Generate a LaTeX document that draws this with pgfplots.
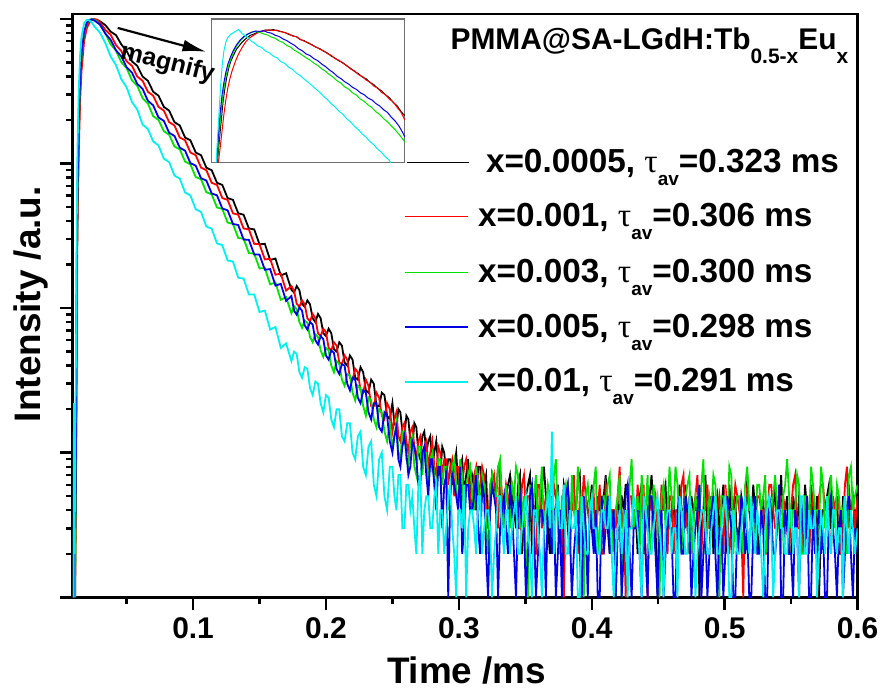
\documentclass[border=0pt]{standalone}
\usepackage{fontspec}
\setmainfont{Liberation Sans}
\newfontfamily\grk{Liberation Serif}
\usepackage{pgfplots}
\pgfplotsset{compat=1.18}
\usepackage{pgfplotstable}
\usetikzlibrary{arrows.meta}
\definecolor{cK}{RGB}{0,0,0}
\definecolor{cR}{RGB}{255,0,0}
\definecolor{cG}{RGB}{0,225,0}
\definecolor{cB}{RGB}{0,0,230}
\definecolor{cC}{RGB}{0,240,240}
\definecolor{frm}{RGB}{110,110,110}

\pgfplotstableread{
t k r g b c
0.0096 1 1 1 1 1
0.0099 2 1 3 2 14
0.0102 1 2 1 6 1
0.0105 3 1 2 1 22
0.0109 1 2 4 18 2
0.0113 2 1 1 3 12
0.0117 4 3 5 6 30
0.0121 20 12 25 30 80
0.0125 150 90 180 200 400
0.0130 500 350 600 650 1200
0.0140 1600 1200 1900 2000 3200
0.0150 3300 2700 3700 3800 5600
0.0160 5000 4300 5400 5600 7400
0.0180 7600 7000 7900 8100 9300
0.0200 9000 8600 9300 9400 9850
0.0220 9700 9400 9800 9850 9750
0.0240 9950 9800 9950 9900 9350
0.0260 9900 9950 9800 9700 8800
0.0280 9800 9850 9550 9400 8400
0.0300 9600 9450 9016 9141 8000
0.034 9050 8380 7950 7900 6800
0.038 8150 7750 6650 7150 5480
0.042 7720 6580 6030 6050 4790
0.046 6650 5990 5010 5500 3820
0.050 5990 5080 4560 4620 3360
0.054 5080 4730 3760 4250 2660
0.058 4730 3990 3440 3550 2360
0.062 3990 3730 2830 3280 1860
0.066 3730 3130 2600 2710 1730
0.070 3130 2940 2120 2520 1420
0.074 2940 2460 2000 2080 1330
0.078 2460 2320 1670 1970 1080
0.082 2320 1930 1580 1630 1020
0.086 1930 1830 1310 1550 825
0.090 1830 1510 1250 1285 785
0.094 1510 1445 1030 1225 630
0.098 1445 1190 985 1005 600
0.102 1190 1140 805 965 482
0.106 1140 935 778 790 462
0.110 935 898 632 762 366
0.114 898 735 612 620 354
0.118 735 710 496 602 280
0.122 710 576 484 488 272
0.126 576 560 390 474 213
0.130 560 452 382 382 210
0.134 452 442 305 375 162
0.138 442 355 302 298 160
0.142 355 350 240 296 124
0.146 350 278 238 235 124
0.150 276 276 188 234 94
0.154 278 217 189 184 96
0.158 215 219 146 186 71
0.162 220 170 150 143 74
0.166 168 173 114 147 53
0.170 174 132 119 112 57
0.174 134 142 92 121 43
0.176 128 131 103 96 50
0.178 142 107 98 90 48
0.180 133 102 80 101 36
0.182 107 113 73 96 33
0.184 102 106 82 76 39
0.186 113 85 79 71 38
0.188 106 81 63 80 28
0.190 85 91 58 77 25
0.192 80 85 66 60 31
0.194 91 67 63 56 30
0.196 85 64 51 64 22
0.198 67 72 46 61 19
0.200 64 68 53 47 25
0.202 72 53 51 44 24
0.204 67 51 40 51 17
0.206 52 58 36 49 15
0.208 50 55 43 38 20
0.210 58 42 41 35 20
0.212 55 41 32 41 13
0.214 42 47 29 40 12
0.216 40 44 35 30 16
0.218 47 33 34 27 16
0.220 44 32 26 33 10
0.222 33 38 23 32 9
0.224 32 36 29 24 13
0.226 39 27 28 22 14
0.228 36 26 21 27 8
0.230 27 32 18 26 7
0.232 26 29 24 19 11
0.234 32 21 23 17 12
0.236 30 21 17 22 6
0.238 21 26 15 22 5
0.240 21 24 20 15 9
0.242 26 18 19 14 10
0.244 25 17 14 19 5
0.246 18 22 12 18 4
0.248 17 20 16 12 8
0.2500 22 14 11 10 8
0.2515 16 17 13 13 5
0.2530 15 19 16 15 4
0.2545 20 13 10 9 7
0.2560 19 12 9 8 7
0.2575 14 15 14 11 3
0.2590 13 16 14 13 3
0.2605 18 12 9 10 6
0.2620 17 10 8 7 6
0.2635 12 14 12 8 4
0.2650 11 15 13 12 5
0.2665 16 11 8 11 3
0.2680 15 9 7 9 2
0.2695 10 12 11 6 6
0.2710 9 13 11 6 7
0.2725 13 9 7 10 2
0.2740 14 11 10 11 4
0.2755 10 12 10 7 5
0.2770 12 8 6 5 5
0.2785 13 10 9 9 3
0.2800 8 12 10 9 3
0.2815 10 8 7 6 5
0.2830 12 7 5 4 6
0.2845 8 11 9 8 2
0.2860 7 10 9 8 4
0.2875 11 7 6 3 4
0.2890 10 9 8 6 2
0.2905 7 9 8 7 3
0.2920 9 6 4 1 5
0.2935 9 8 5 5 6
0.2950 6 9 8 7 3
0.2965 8 5 9 6 2
0.2980 10 8 6 5 1
0.2995 6 8 4 4 4
0.3010 8 5 9 8 4
0.3025 9 6 7 2 3
0.3040 5 8 3 3 6
0.3055 7 9 6 6 1
0.3070 9 7 7 6 3
0.3085 5 5 8 4 4
0.3100 7 4 5 4 4
0.3115 6 7 4 5 3
0.3130 4 8 8 7 2
0.3145 8 5 6 3 5
0.3160 8 6 4 2 5
0.3175 5 8 7 6 2
0.3190 6 7 6 5 3
0.3205 7 4 3 2 4
0.3220 3 3 2 1 4
0.3235 4 6 6 4 3
0.3250 7 6 7 6 1
0.3265 6 7 5 5 2
0.3280 5 5 5 4 3
0.3295 8 3 8 1 5
0.3310 8 8 9 3 5
0.3325 3 5 4 4 3
0.3340 4 4 3 5 2
0.3355 5 6 6 3 4
0.3370 6 5 4 2 4
0.3385 7 4 3 6 2
0.3400 5 6 6 4 3
0.3415 4 5 5 2 4
0.3430 3 4 8 1 5
0.3445 6 3 7 4 2
0.3460 7 3 3 5 2
0.3475 2 6 4 3 3
0.3490 4 7 5 3 4
0.3505 5 4 2 1 5
0.3520 6 5 1 2 3
0.3535 7 5 6 5 2
0.3550 2 4 4 6 1
0.3565 3 2 5 3 4
0.3580 5 2 7 1 4
0.3595 4 6 3 2 3
0.3610 4 6 5 4 2
0.3625 6 3 8 4 1
0.3640 8 4 3 3 3
0.3655 5 5 4 1 4
0.3670 3 5 6 5 5
0.3685 2 4 5 3 3
0.3700 5 3 4 2 14
0.3715 4 6 7 4 2
0.3730 4 5 9 1 4
0.3745 6 4 3 2 5
0.3760 2 4 2 4 3
0.3775 3 3 5 1 3
0.3790 6 1 5 3 6
0.3805 5 5 6 5 2
0.3820 3 6 4 6 2
0.3835 2 4 2 3 4
0.3850 5 4 7 1 3
0.3865 4 7 4 2 3
0.3880 4 3 3 3 4
0.3895 6 2 8 4 1
0.3910 7 5 5 2 1
0.3925 3 4 3 1 5
0.3940 3 7 1 5 3
0.3955 5 5 5 3 2
0.3970 4 4 6 1 2
0.3985 4 3 4 4 4
0.4000 6 4 4 3 5
0.4015 3 5 6 2 3
0.4030 2 3 8 4 3
0.4045 5 4 2 1 2
0.4060 4 6 3 1 2
0.4075 4 2 5 5 4
0.4090 5 2 5 2 4
0.4105 7 6 4 3 3
0.4120 3 5 6 5 3
0.4135 2 3 7 2 5
0.4150 4 4 2 3 2
0.4165 4 4 3 4 1
0.4180 1 3 4 1 2
0.4195 3 5 5 3 3
0.4210 5 8 7 4 4
0.4225 5 3 1 1 2
0.4240 4 4 4 2 3
0.4255 6 1 4 5 4
0.4270 6 2 3 6 1
0.4285 3 5 6 2 3
0.4300 3 5 9 1 3
0.4315 4 3 3 3 5
0.4330 4 3 4 3 4
0.4345 2 6 5 4 3
0.4360 5 4 2 2 2
0.4375 6 4 7 1 1
0.4390 2 6 5 4 5
0.4405 3 2 4 2 4
0.4420 4 1 7 1 3
0.4435 5 5 2 5 2
0.4450 7 4 3 5 2
0.4465 4 4 6 3 3
0.4480 3 5 4 2 4
0.4495 1 3 4 1 5
0.4510 4 3 1 3 3
0.4525 4 6 5 4 2
0.4540 5 4 6 1 1
0.4555 6 4 3 2 3
0.4570 3 2 4 4 4
0.4585 3 5 8 3 4
0.4600 4 5 5 3 2
0.4615 5 2 4 1 3
0.4630 2 4 8 1 3
0.4645 3 4 6 4 1
0.4660 6 3 3 5 5
0.4675 4 6 2 2 4
0.4690 4 7 4 2 3
0.4705 6 3 5 5 2
0.4720 3 4 6 4 2
0.4735 2 5 7 3 5
0.4750 5 2 2 1 4
0.4765 4 4 3 2 3
0.4780 4 5 5 3 1
0.4795 5 7 4 4 2
0.4810 1 3 4 6 3
0.4825 3 2 6 1 4
0.4840 4 4 9 2 4
0.4855 7 4 2 3 3
0.4870 3 6 3 1 2
0.4885 4 3 5 2 2
0.4900 5 3 4 4 3
0.4915 2 5 7 5 4
0.4930 4 4 6 2 5
0.4945 5 4 3 1 2
0.4960 3 5 1 3 2
0.4975 4 3 5 3 3
0.4990 6 2 5 1 4
0.5005 3 6 4 2 5
0.5020 2 4 3 5 3
0.5035 6 2 8 4 1
0.5050 4 3 7 3 1
0.5065 4 4 2 1 4
0.5080 5 6 4 1 3
0.5095 2 5 5 3 2
0.5110 3 4 5 2 2
0.5125 5 3 3 5 3
0.5140 4 1 2 4 4
0.5155 3 6 6 2 5
0.5170 7 5 8 3 3
0.5185 4 4 4 1 2
0.5200 3 4 4 1 5
0.5215 6 3 2 3 3
0.5230 4 3 3 5 2
0.5245 3 5 6 2 4
0.5260 2 5 6 2 3
0.5275 4 4 4 4 2
0.5290 5 4 5 3 1
0.5305 2 2 7 1 3
0.5320 4 2 2 1 4
0.5335 5 6 3 5 5
0.5350 3 6 4 4 3
0.5365 4 4 5 2 1
0.5380 6 3 7 2 2
0.5395 3 3 4 3 4
0.5410 4 4 3 6 4
0.5425 7 5 2 1 3
0.5440 3 5 5 1 3
0.5455 4 4 6 4 2
0.5470 5 3 9 3 2
0.5485 2 2 5 2 4
0.5500 2 4 3 2 4
0.5515 5 6 4 1 2
0.5530 4 7 4 4 3
0.5545 3 3 7 3 3
0.5560 5 3 6 1 1
0.5575 4 5 2 5 5
0.5590 3 2 2 3 5
0.5605 6 4 5 2 2
0.5620 4 5 5 5 2
0.5635 2 2 3 1 4
0.5650 6 4 8 1 3
0.5665 4 5 6 4 3
0.5680 3 3 4 2 4
0.5695 5 3 4 3 1
0.5710 1 5 3 4 2
0.5725 3 6 8 2 4
0.5740 4 6 6 3 3
0.5755 4 4 3 1 2
0.5770 5 4 4 1 5
0.5785 6 3 5 4 3
0.5800 3 2 7 5 2
0.5815 3 5 4 3 4
0.5830 4 4 3 2 4
0.5845 5 4 6 1 2
0.5860 2 5 5 3 3
0.5875 2 2 3 4 3
0.5890 5 3 4 1 1
0.5905 4 6 5 2 5
0.5920 4 8 2 4 3
0.5935 6 3 7 5 2
0.5950 3 4 8 2 4
0.5965 3 5 4 1 3
0.5980 4 3 5 3 2
0.6000 4 5 6 2 3
}\decay

\newcommand\tav{{\grk\mdseries τ}\raisebox{-6.5pt}{\fontsize{9.5}{9.5}\selectfont av}}
\newcommand\legfont{\fontsize{16.7}{16.7}\selectfont\bfseries}

\begin{document}
\begin{tikzpicture}
\begin{axis}[
  at={(0,0)}, anchor=south west,
  width=393.5pt, height=292.5pt, scale only axis,
  xmin=0.0095, xmax=0.6, ymode=log, ymin=1, ymax=10800,
  xtick={0.1,0.2,0.3,0.4,0.5,0.6},
  xticklabels={0.1,0.2,0.3,0.4,0.5,0.6},
  minor xtick={0.05,0.15,0.25,0.35,0.45,0.55},
  ytick={1,10,100,1000,10000}, yticklabels={},
  minor ytick={2,3,4,5,6,7,8,9,20,30,40,50,60,70,80,90,200,300,400,500,600,700,800,900,2000,3000,4000,5000,6000,7000,8000,9000},
  xtick pos=left, ytick pos=left, tick align=outside,
  major tick length=6.5pt, minor tick length=3.5pt,
  every tick/.style={black, line width=1.2pt},
  axis line style={line width=1.4pt},
  xticklabel style={font=\fontsize{15}{15}\selectfont\bfseries},
  every axis plot/.append style={line width=0.9pt, sharp plot},
]
\addplot[cK] table[x=t,y=k]{\decay};
\addplot[cR] table[x=t,y=r]{\decay};
\addplot[cG] table[x=t,y=g]{\decay};
\addplot[cB] table[x=t,y=b]{\decay};
\addplot[cC] table[x=t,y=c]{\decay};
\end{axis}

\begin{axis}[
  at={(69.5pt,218pt)}, anchor=south west,
  width=97pt, height=72pt, scale only axis,
  xmin=0, xmax=100, ymin=0, ymax=100,
  ticks=none,
  axis background/.style={fill=white},
  axis line style={frm, line width=0.6pt},
  every axis plot/.append style={line width=0.5pt},
]
\addplot[cK] coordinates {(3.1,0) (4,14) (5,28) (6,42) (7,52) (8,60) (9,66) (10,70.5) (11.5,75) (13,79) (14.5,81.5) (16,84) (18,86.5) (20,88.5) (22,89.5) (24,90.8) (26,91.5) (28,92.3) (30,92.1) (32,92.6) (34,91.8) (36,91.2) (38,90.6) (40,89.2) (42,88.4) (44,87.5) (46,85.6) (48,84.8) (50,83.2) (52,82.1) (54,80.3) (56,79.4) (58,77.5) (60,76.2) (62,74.1) (64,72.6) (66,70.8) (68,69.5) (70,67.2) (72,65.6) (74,63.4) (76,61.9) (78,59.6) (80,58.3) (82,55.8) (84,54.2) (86,51.6) (88,49.9) (90,47.1) (92,45.2) (94,41.8) (96,39.5) (98,35.6) (100,32.5)};
\addplot[cR] coordinates {(3.6,0) (4.5,10) (5.5,22) (6.5,34) (7.5,44) (8.5,52) (9.5,58) (10.5,63) (12,69) (13.5,74) (15,78) (16.5,81.5) (18,84.5) (20,87) (22,88.8) (24,90.4) (26,91.2) (28,92.1) (30,92.4) (32,91.9) (34,92.2) (36,91.1) (38,90.4) (40,89.6) (42,88.1) (44,87.6) (46,85.9) (48,84.4) (50,83.5) (52,81.7) (54,80.6) (56,78.9) (58,77.8) (60,75.8) (62,74.6) (64,72.3) (66,71.2) (68,69.1) (70,67.6) (72,65.1) (74,63.8) (76,61.2) (78,59.9) (80,57.4) (82,55.9) (84,53.2) (86,51.8) (88,48.7) (90,47.3) (92,44.1) (94,42.2) (96,38.4) (98,35.1) (100,29.5)};
\addplot[cG] coordinates {(2.9,0) (3.7,14) (4.7,31) (5.7,44) (6.7,54) (7.7,61) (8.7,66.5) (10,72) (11.5,77) (13,81) (15,84.8) (17,87.6) (19,89.6) (21,90.9) (23,91.2) (25,90.6) (27,89.6) (29,88.8) (31,87.4) (33,86.5) (35,84.7) (37,83.6) (39,81.5) (41,80.3) (43,78.1) (45,76.6) (47,74.8) (49,72.9) (51,71.3) (53,69.2) (55,67.6) (57,65.3) (59,63.6) (61,61.2) (63,59.4) (65,56.9) (67,55.3) (69,52.6) (71,51.1) (73,48.5) (75,46.9) (77,44.2) (79,42.6) (81,40.1) (83,38.2) (85,35.4) (87,33.5) (89,30.6) (91,28.4) (93,25.5) (95,22.8) (97,19.6) (99,16.2) (100,14.3)};
\addplot[cB] coordinates {(2.7,0) (3.5,16) (4.5,34) (5.5,47) (6.5,56) (7.5,63) (8.5,68.5) (10,74) (11.5,78.5) (13,82) (15,85.5) (17,88) (19,89.6) (21,90.8) (23,91.6) (25,91.3) (27,91.8) (29,90.7) (31,90.1) (33,88.6) (35,87.8) (37,86.1) (39,84.9) (41,83.1) (43,81.6) (45,79.3) (47,77.8) (49,75.6) (51,74.5) (53,72.3) (55,70.9) (57,68.6) (59,66.8) (61,64.5) (63,62.6) (65,60.1) (67,58.4) (69,56.2) (71,54.6) (73,52.3) (75,50.9) (77,48.6) (79,47.2) (81,44.9) (83,43.6) (85,41.1) (87,39.4) (89,36.8) (91,34.9) (93,31.6) (95,28.9) (97,25.3) (99,20.6) (100,17.8)};
\addplot[cC] coordinates {(2.5,0) (3.2,18) (4,36) (4.8,54) (5.6,68) (6.5,78) (7.5,84) (8.5,87) (10,89.3) (11.5,90.6) (13,91.8) (14,92.6) (15,91.2) (16,89.6) (17.5,88.4) (19,86.8) (20.5,84.6) (22,83.5) (24,81.2) (26,80.1) (28,77.6) (30,76.4) (32,74.1) (34,72.8) (36,70.2) (38,68.9) (40,66.3) (42,64.8) (44,62.2) (46,60.5) (48,58.1) (50,55.9) (52,53.6) (54,51.2) (56,48.9) (58,46.1) (60,43.8) (62,40.9) (64,38.6) (66,35.7) (68,33.5) (70,30.4) (72,28.2) (74,25.1) (76,22.9) (78,19.8) (80,17.6) (82,14.5) (84,12.4) (86,9.2) (88,7.1) (90,3.9) (92,1.6) (93,-1)};
\end{axis}

\begin{scope}[x=0.5pt,y=-0.5pt,shift={(-36.5pt,299.5pt)}]
\useasboundingbox (0,0) rectangle (885,692);
\node[anchor=base east, inner sep=0pt] at (851,50) {\fontsize{15}{15}\selectfont\bfseries PMMA@SA-LGdH:Tb\raisebox{-7pt}{\fontsize{10.5}{10.5}\selectfont 0.5-x}Eu\raisebox{-7pt}{\fontsize{10.5}{10.5}\selectfont x}};
\draw[cK, line width=0.6pt] (408,163) -- (470,163);
\node[anchor=base west, inner sep=0pt] at (487,173) {\legfont x=0.0005, \tav=0.323 ms};
\draw[cR, line width=0.6pt] (406,217) -- (469,217);
\node[anchor=base west, inner sep=0pt] at (479,227) {\legfont x=0.001, \tav=0.306 ms};
\draw[cG, line width=0.6pt] (406,273) -- (469,273);
\node[anchor=base west, inner sep=0pt] at (479,283) {\legfont x=0.003, \tav=0.300 ms};
\draw[cB, line width=0.6pt] (406,328) -- (469,328);
\node[anchor=base west, inner sep=0pt] at (479,338) {\legfont x=0.005, \tav=0.298 ms};
\draw[cC, line width=0.6pt] (406,383) -- (469,383);
\node[anchor=base west, inner sep=0pt] at (479,393) {\legfont x=0.01, \tav=0.291 ms};
\node[rotate=90, anchor=center] at (31,305) {\fontsize{18.5}{18.5}\selectfont\bfseries Intensity /a.u.};
\node[anchor=base] at (468,685) {\fontsize{18.5}{18.5}\selectfont\bfseries Time /ms};
\node[rotate=-14] at (168,64) {\fontsize{12.5}{12.5}\selectfont\bfseries magnify};
\draw[line width=1.1pt, -{Latex[length=12pt,width=6pt]}] (118,28) -- (207,52);
\end{scope}
\end{tikzpicture}
\end{document}
